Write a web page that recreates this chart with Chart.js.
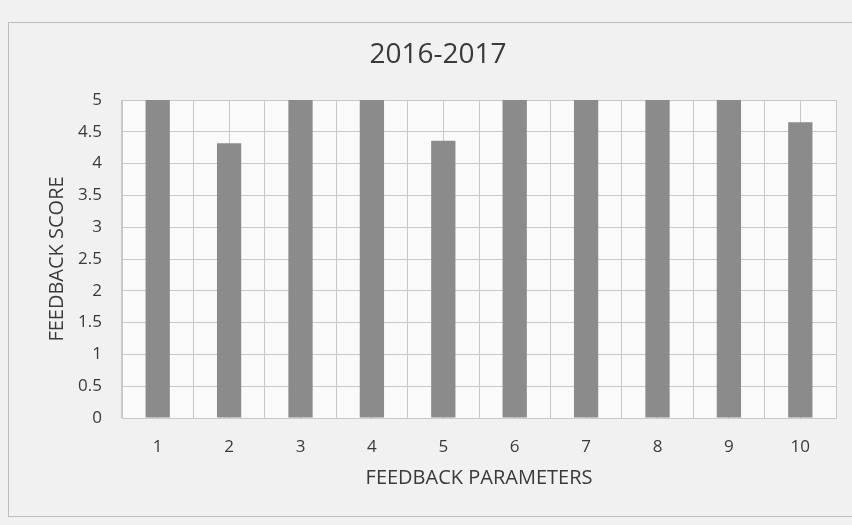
<!DOCTYPE html>
<html>
<head>
<meta charset="utf-8">
<script src="https://cdn.jsdelivr.net/npm/chart.js@4"></script>
<style>
  html, body { margin: 0; padding: 0; background: #efeeee; }
  #wrap { width: 852px; height: 525px; position: relative; }
</style>
</head>
<body>
<div id="wrap"><canvas id="c" width="852" height="525"></canvas></div>
<script>
const titleText = "2016-2017";
const categories = ["1", "2", "3", "4", "5", "6", "7", "8", "9", "10"];
const scores = [5, 4.32, 5, 5, 4.36, 5, 5, 5, 5, 4.65];
const yTitle = "FEEDBACK SCORE";
const xTitle = "FEEDBACK PARAMETERS";

const FONT = "'Open Sans', 'Liberation Sans', sans-serif";
const TXT = "#3a3a3a";
const GRID = "#c8c8c8";

const bgPlugin = {
  id: "bg",
  beforeDraw(chart) {
    const ctx = chart.ctx;
    const a = chart.chartArea;
    ctx.save();
    ctx.fillStyle = "#f2f1f1";
    ctx.fillRect(0, 0, chart.width, chart.height);
    ctx.strokeStyle = "#bdbdbd";
    ctx.lineWidth = 1;
    ctx.strokeRect(8.5, 22.5, 850, 494);
    ctx.fillStyle = "#fafafa";
    ctx.fillRect(a.left, a.top, a.right - a.left, a.bottom - a.top);
    ctx.restore();
  }
};

new Chart(document.getElementById("c"), {
  type: "bar",
  data: {
    labels: categories,
    datasets: [{
      data: scores,
      backgroundColor: "#8b8b8b",
      borderWidth: 0,
      barPercentage: 0.34,
      categoryPercentage: 1.0,
      xAxisID: "x",
      yAxisID: "y"
    }]
  },
  options: {
    responsive: false,
    animation: false,
    devicePixelRatio: 1,
    layout: { padding: { left: 40, right: 16, top: 30, bottom: 30 } },
    plugins: {
      legend: { display: false },
      tooltip: { enabled: false },
      title: {
        display: true,
        text: titleText,
        color: TXT,
        font: { family: FONT, size: 28, weight: "normal" },
        padding: { top: 8.2, bottom: 28.2 }
      }
    },
    scales: {
      y: {
        min: 0,
        max: 5,
        ticks: {
          stepSize: 0.5,
          color: TXT,
          padding: 20,
          font: { family: FONT, size: 17 },
          callback: (v) => String(v)
        },
        grid: { color: GRID, drawTicks: false, lineWidth: 1 },
        border: { display: true, color: GRID },
        title: {
          display: true,
          text: yTitle,
          color: TXT,
          font: { family: FONT, size: 20 },
          padding: { top: 5, bottom: 0 }
        },
        afterFit(scale) { scale.width = 82; }
      },
      x: {
        offset: true,
        ticks: {
          color: TXT,
          padding: 19,
          font: { family: FONT, size: 17 }
        },
        grid: { color: GRID, drawTicks: false, offset: true, lineWidth: 1 },
        border: { display: true, color: GRID },
        title: {
          display: true,
          text: xTitle,
          color: TXT,
          font: { family: FONT, size: 20 },
          padding: { top: 0, bottom: 5 }
        },
        afterFit(scale) { scale.height = 77; }
      },
      x2: {
        type: "category",
        labels: categories,
        position: "top",
        offset: true,
        ticks: { display: false },
        grid: { color: GRID, drawTicks: false, offset: false, lineWidth: 1 },
        border: { display: false },
        afterFit(scale) { scale.height = 0; }
      }
    }
  },
  plugins: [bgPlugin]
});
</script>
</body>
</html>
